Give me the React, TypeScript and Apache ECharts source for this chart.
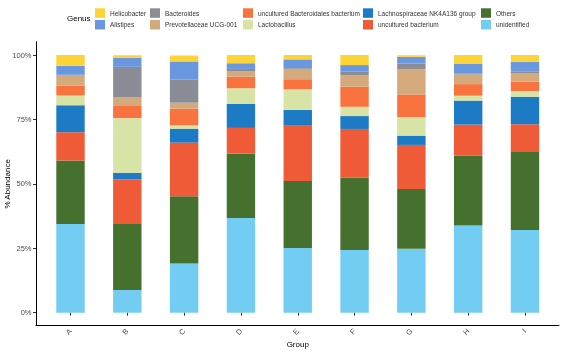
import React, { useEffect, useRef } from "react";
import * as echarts from "echarts";

const groups = ["A", "B", "C", "D", "E", "F", "G", "H", "I"];
const yTicks = [0, 25, 50, 75, 100];

// bottom to top stacking order
const unidentified = [34.4, 8.8, 19.1, 36.7, 25.1, 24.3, 24.8, 33.8, 32.1];
const others = [24.7, 25.6, 26.1, 25.0, 26.0, 28.2, 23.2, 27.2, 30.3];
const unculturedBacterium = [10.9, 17.3, 20.8, 10.0, 21.5, 18.8, 17.1, 12.0, 10.7];
const lachnospiraceae = [10.5, 2.6, 5.4, 9.3, 6.1, 5.0, 3.6, 9.3, 10.7];
const lactobacillus = [3.75, 21.2, 1.3, 6.1, 8.0, 3.6, 7.2, 1.9, 2.2];
const unculturedBacteroidales = [3.9, 5.0, 6.5, 4.5, 3.9, 7.8, 8.8, 4.5, 3.6];
const prevotellaceae = [3.9, 3.0, 2.3, 2.2, 4.0, 4.5, 9.8, 3.8, 3.4];
const bacteroides = [0.3, 11.9, 8.9, 0.8, 0.3, 1.3, 2.2, 0.4, 0.5];
const alistipes = [3.5, 3.5, 7.1, 2.2, 3.4, 2.6, 2.6, 3.6, 3.9];
const helicobacter = [4.5, 1.0, 2.3, 3.2, 1.8, 3.9, 0.6, 3.5, 2.6];

const stackSeries: { name: string; color: string; data: number[] }[] = [
  { name: "unidentified", color: "#73CDF2", data: unidentified },
  { name: "Others", color: "#46702E", data: others },
  { name: "uncultured bacterium", color: "#EF5A37", data: unculturedBacterium },
  { name: "Lachnospiraceae NK4A136 group", color: "#1C7BC4", data: lachnospiraceae },
  { name: "Lactobacillus", color: "#D7E4A5", data: lactobacillus },
  { name: "uncultured Bacteroidales bacterium", color: "#F9733F", data: unculturedBacteroidales },
  { name: "Prevotellaceae UCG-001", color: "#D4AA7D", data: prevotellaceae },
  { name: "Bacteroides", color: "#8A8D96", data: bacteroides },
  { name: "Alistipes", color: "#6A98E0", data: alistipes },
  { name: "Helicobacter", color: "#FDD437", data: helicobacter },
];

const legendColumns: string[][] = [
  ["Helicobacter", "Alistipes"],
  ["Bacteroides", "Prevotellaceae UCG-001"],
  ["uncultured Bacteroidales bacterium", "Lactobacillus"],
  ["Lachnospiraceae NK4A136 group", "uncultured bacterium"],
  ["Others", "unidentified"],
];
const legendLefts = [95, 150, 243, 363, 481];

const FONT = "'Liberation Sans', Arial, Helvetica, sans-serif";

export default function App() {
  const ref = useRef<HTMLDivElement>(null);
  useEffect(() => {
    if (!ref.current) return;
    const chart = echarts.init(ref.current, null, { renderer: "svg" });
    const option: any = {
      animation: false,
      textStyle: { fontFamily: FONT },
      title: {
        text: "Genus",
        left: 67,
        top: 14,
        padding: 0,
        textStyle: { fontSize: 8, fontWeight: "normal", color: "#000", fontFamily: FONT },
      },
      legend: legendColumns.map((col, i) => ({
        data: col,
        orient: "vertical",
        left: legendLefts[i],
        top: 8.3,
        padding: 0,
        itemWidth: 10,
        itemHeight: 9.5,
        itemGap: 2.2,
        icon: "rect",
        selectedMode: false,
        textStyle: { fontSize: 6.5, color: "#333", fontFamily: FONT },
      })),
      grid: [
        { left: 36, right: 4, top: 41.7, bottom: 27, outerBoundsMode: "none", containLabel: false },
        { left: 42.1, right: 9.6, top: 55, bottom: 39.3, outerBoundsMode: "none", containLabel: false },
      ],
      xAxis: [
        {
          type: "value",
          gridIndex: 0,
          min: 0,
          max: 1,
          axisLine: { show: true, lineStyle: { color: "#000", width: 1 } },
          axisTick: { show: false },
          axisLabel: { show: false },
          splitLine: { show: false },
        },
        {
          type: "category",
          gridIndex: 1,
          data: groups,
          offset: 11.7,
          axisLine: { show: false },
          axisTick: { show: true, alignWithLabel: true, length: 3, lineStyle: { color: "#333" } },
          axisLabel: {
            rotate: 45,
            margin: 5.5,
            fontSize: 7.5,
            color: "#4D4D4D",
            fontFamily: FONT,
          },
          name: "Group",
          nameLocation: "middle",
          nameGap: 16,
          nameMoveOverlap: false,
          nameTextStyle: { fontSize: 8, color: "#000", fontFamily: FONT },
        },
      ],
      yAxis: [
        {
          type: "value",
          gridIndex: 0,
          min: 0,
          max: 1,
          axisLine: { show: true, lineStyle: { color: "#000", width: 1 } },
          axisTick: { show: false },
          axisLabel: { show: false },
          splitLine: { show: false },
        },
        {
          type: "value",
          gridIndex: 1,
          min: yTicks[0],
          max: yTicks[yTicks.length - 1],
          interval: 25,
          offset: 6.1,
          axisLine: { show: false },
          axisTick: { show: true, length: 3, lineStyle: { color: "#333" } },
          axisLabel: {
            formatter: "{value}%",
            margin: 4.5,
            fontSize: 7.5,
            color: "#4D4D4D",
            fontFamily: FONT,
          },
          splitLine: { show: false },
          name: "% Abundance",
          nameLocation: "middle",
          nameGap: 25,
          nameMoveOverlap: false,
          nameTextStyle: { fontSize: 8, color: "#000", fontFamily: FONT },
        },
      ],
      series: stackSeries.map((s) => ({
        name: s.name,
        type: "bar",
        stack: "total",
        xAxisIndex: 1,
        yAxisIndex: 1,
        barWidth: "50%",
        itemStyle: { color: s.color },
        data: s.data,
      })),
    };
    chart.setOption(option);
    return () => chart.dispose();
  }, []);
  return (
    <div
      ref={ref}
      style={{ position: "fixed", left: 0, top: 0, width: 563, height: 352 }}
    />
  );
}
